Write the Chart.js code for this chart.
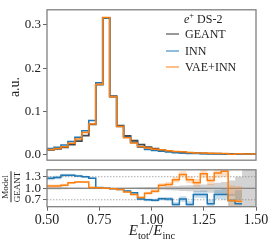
<!DOCTYPE html>
<html>
<head>
<meta charset="utf-8">
<script src="https://cdn.jsdelivr.net/npm/chart.js@4.4.1/dist/chart.umd.min.js"></script>
<style>
  body { margin: 0; background: #fff; width: 274px; height: 247px; overflow: hidden; position: relative;
         font-family: "Liberation Serif", serif; color: #222; }
  canvas { position: absolute; left: 0; }
  #main { top: 0; }
  #ratio { top: 160px; }
  .lbl { position: absolute; white-space: nowrap; }
  .rot { transform: translate(-50%, -50%) rotate(-90deg); }
  .leg { position: absolute; left: 166px; font-size: 12px; display: flex; align-items: center; height: 14px; }
  .sw { display: inline-block; width: 13px; height: 1.6px; margin-right: 6px; }
  sub { font-size: 0.7em; line-height: 0; }
  sup { font-size: 0.7em; line-height: 0; }
</style>
</head>
<body>
<canvas id="main" width="274" height="170"></canvas>
<canvas id="ratio" width="274" height="87"></canvas>

<div class="lbl rot" style="left:15px;top:87px;font-size:14px">a.u.</div>
<div class="lbl rot" style="left:11px;top:187px;font-size:9px;text-align:center;line-height:1">
  <div style="border-bottom:0.8px solid #222;padding-bottom:1px">Model</div>
  <div style="padding-top:1px">GEANT</div>
</div>
<div class="lbl" style="left:152px;top:230px;transform:translate(-50%,-50%);font-size:15px">
  <i>E</i><sub>tot</sub>/<i>E</i><sub>inc</sub>
</div>

<div class="lbl" style="left:184px;top:12px;font-size:12px"><i>e</i><sup>+</sup> DS-2</div>
<div class="leg" style="top:27px"><span class="sw" style="background:#999"></span>GEANT</div>
<div class="leg" style="top:44px"><span class="sw" style="background:#8fbbdc"></span>INN</div>
<div class="leg" style="top:60px"><span class="sw" style="background:#ffbf86"></span>VAE+INN</div>

<script>
'use strict';

// 30 bins between 0.5 and 1.5
const binEdges = Array.from({ length: 31 }, (_, i) => 0.5 + i / 30);
const xTicks = [0.5, 0.75, 1.0, 1.25, 1.5];
const yTicksMain = [0.0, 0.1, 0.2, 0.3];
const yTicksRatio = [0.7, 1.0, 1.3];

const geant = [0.011, 0.013, 0.017, 0.023, 0.031, 0.044, 0.070, 0.162, 0.316, 0.135,
               0.067, 0.043, 0.032, 0.023, 0.017, 0.0135, 0.0105, 0.008, 0.006, 0.0048,
               0.004, 0.0033, 0.0028, 0.0024, 0.002, 0.0018, 0.0016, 0.0015, 0.0013, 0.0012];
const inn = [0.014, 0.017, 0.022, 0.030, 0.040, 0.055, 0.079, 0.166, 0.316, 0.134,
             0.065, 0.040, 0.028, 0.017, 0.012, 0.0095, 0.0078, 0.0058, 0.0042, 0.0035,
             0.0025, 0.0026, 0.0018, 0.0019, 0.0013, 0.0015, 0.0014, 0.0009, 0.0008, 0.0007];
const vaeInn = [0.012, 0.014, 0.018, 0.026, 0.036, 0.051, 0.071, 0.163, 0.317, 0.134,
                0.065, 0.039, 0.027, 0.018, 0.015, 0.0125, 0.0113, 0.0087, 0.0072, 0.0065,
                0.0048, 0.0036, 0.0038, 0.0029, 0.0027, 0.0026, 0.001, 0.0022, 0.0015, 0.0014];

// ratio to GEANT
const ratioInn = [1.26, 1.28, 1.34, 1.34, 1.32, 1.30, 1.26, 1.02, 1.00, 0.99,
                  0.97, 0.93, 0.88, 0.72, 0.70, 0.69, 0.73, 0.72, 0.58, 0.72,
                  0.58, 0.84, 0.84, 0.60, 0.84, 0.84, 0.68, 0.60, null, null];
const ratioVae = [1.06, 1.06, 1.08, 1.14, 1.16, 1.16, 1.02, 1.01, 1.00, 0.99,
                  0.97, 0.90, 0.84, 0.76, 0.87, 0.92, 1.08, 1.10, 1.22, 1.36,
                  1.22, 1.14, 1.38, 1.20, 1.40, 1.44, 0.68, 0.66, null, null];
const errGeant = [0.03, 0.03, 0.025, 0.02, 0.02, 0.015, 0.012, 0.008, 0.005, 0.008,
                  0.012, 0.015, 0.02, 0.025, 0.03, 0.035, 0.04, 0.05, 0.06, 0.07,
                  0.08, 0.09, 0.1, 0.12, 0.14, 0.16, 0.2, 0.3, 1.0, 1.0];
const errInn = [0.05, 0.045, 0.04, 0.035, 0.03, 0.025, 0.02, 0.01, 0.006, 0.01,
                0.015, 0.02, 0.025, 0.03, 0.035, 0.04, 0.045, 0.05, 0.06, 0.07,
                0.08, 0.09, 0.1, 0.11, 0.12, 0.14, 0.18, 0.35, null, null];
const errVae = [0.04, 0.04, 0.035, 0.03, 0.025, 0.02, 0.02, 0.01, 0.006, 0.01,
                0.015, 0.02, 0.025, 0.03, 0.04, 0.045, 0.05, 0.06, 0.07, 0.08,
                0.09, 0.1, 0.11, 0.12, 0.13, 0.15, 0.4, 0.4, null, null];

// two points per bin so each bin is a flat step
function histPoints(values) {
    let pts = [];
    for (let k = 0; k < values.length; k++) {
        if (values[k] === null) {
            pts.push({ x: binEdges[k], y: null });
            continue;
        }
        pts.push({ x: binEdges[k], y: values[k] });
        pts.push({ x: binEdges[k + 1], y: values[k] });
    }
    return pts;
}
function shift(values, errs, sign) {
    return values.map((v, i) => (v === null || errs[i] === null) ? null : v + sign * errs[i]);
}
const ones = geant.map(() => 1);

const framePlugin = {
    id: 'frame',
    afterDraw(chart) {
        const { ctx, chartArea: a } = chart;
        ctx.save();
        ctx.strokeStyle = '#808080';
        ctx.lineWidth = 1.3;
        ctx.strokeRect(a.left, a.top, a.right - a.left, a.bottom - a.top);
        ctx.restore();
    }
};

const refLines = {
    id: 'refLines',
    beforeDatasetsDraw(chart) {
        const { ctx, chartArea: a, scales: { y } } = chart;
        ctx.save();
        ctx.strokeStyle = '#aaaaaa';
        ctx.lineWidth = 1;
        ctx.setLineDash([1.5, 1.5]);
        [0.7, 1.3].forEach(v => {
            const py = y.getPixelForValue(v);
            ctx.beginPath(); ctx.moveTo(a.left, py); ctx.lineTo(a.right, py); ctx.stroke();
        });
        ctx.setLineDash([]);
        ctx.strokeStyle = '#666666';
        ctx.lineWidth = 1.2;
        const p1 = y.getPixelForValue(1.0);
        ctx.beginPath(); ctx.moveTo(a.left, p1); ctx.lineTo(a.right, p1); ctx.stroke();
        ctx.restore();
    }
};

const tickFont = { family: '"Liberation Serif", serif', size: 13 };

function yAxis(min, max, ticks) {
    return {
        type: 'linear',
        min: min,
        max: max,
        afterFit: (s) => { s.width = 47; },
        afterBuildTicks: (s) => { s.ticks = ticks.map(v => ({ value: v })); },
        ticks: { font: tickFont, color: '#222', padding: 2, autoSkip: false, callback: (v) => v.toFixed(1) },
        grid: { drawOnChartArea: false, tickLength: 4, color: '#666' },
        border: { display: false }
    };
}

function line(data, color, width, order) {
    return { data: data, borderColor: color, borderWidth: width, pointRadius: 0,
             fill: false, order: order, spanGaps: false };
}
function band(color, order) {
    return { borderWidth: 0, pointRadius: 0, backgroundColor: color, order: order };
}

new Chart(document.getElementById('main'), {
    type: 'line',
    data: {
        datasets: [
            line(histPoints(vaeInn), '#ff7f0e', 1.5, 0),
            line(histPoints(inn), '#1f77b4', 1.5, 1),
            line(histPoints(geant), 'rgba(40,40,40,0.85)', 1.8, 2),
        ]
    },
    options: {
        responsive: false,
        devicePixelRatio: 1,
        animation: false,
        layout: { padding: { top: 5, right: 18, bottom: 3.3, left: 0 } },
        plugins: { legend: { display: false }, tooltip: { enabled: false } },
        scales: {
            x: { type: 'linear', min: 0.5, max: 1.5, display: false },
            y: yAxis(-0.013, 0.335, yTicksMain)
        }
    },
    plugins: [framePlugin]
});

new Chart(document.getElementById('ratio'), {
    type: 'line',
    data: {
        datasets: [
            // GEANT band
            Object.assign(band('rgba(0,0,0,0)', 9), { data: histPoints(shift(ones, errGeant, -1)), fill: false }),
            Object.assign(band('rgba(128,128,128,0.35)', 8), { data: histPoints(shift(ones, errGeant, 1)), fill: '-1' }),
            // INN band
            Object.assign(band('rgba(0,0,0,0)', 7), { data: histPoints(shift(ratioInn, errInn, -1)), fill: false }),
            Object.assign(band('rgba(31,119,180,0.25)', 6), { data: histPoints(shift(ratioInn, errInn, 1)), fill: '-1' }),
            // VAE+INN band
            Object.assign(band('rgba(0,0,0,0)', 5), { data: histPoints(shift(ratioVae, errVae, -1)), fill: false }),
            Object.assign(band('rgba(255,127,14,0.25)', 4), { data: histPoints(shift(ratioVae, errVae, 1)), fill: '-1' }),
            line(histPoints(ratioVae), '#ff7f0e', 1.5, 0),
            line(histPoints(ratioInn), '#1f77b4', 1.5, 1),
        ]
    },
    options: {
        responsive: false,
        devicePixelRatio: 1,
        animation: false,
        layout: { padding: { top: 6.7, right: 18, bottom: 0, left: 0 } },
        plugins: { legend: { display: false }, tooltip: { enabled: false } },
        scales: {
            x: {
                type: 'linear', min: 0.5, max: 1.5,
                afterFit: (s) => { s.height = 40.3; },
                afterBuildTicks: (s) => { s.ticks = xTicks.map(v => ({ value: v })); },
                ticks: { font: { family: '"Liberation Serif", serif', size: 14 }, color: '#222', padding: 1,
                         maxRotation: 0, autoSkip: false, callback: (v) => v.toFixed(2) },
                grid: { drawOnChartArea: false, tickLength: 4, color: '#666' },
                border: { display: false }
            },
            y: yAxis(0.52, 1.48, yTicksRatio)
        }
    },
    plugins: [refLines, framePlugin]
});
</script>
</body>
</html>
